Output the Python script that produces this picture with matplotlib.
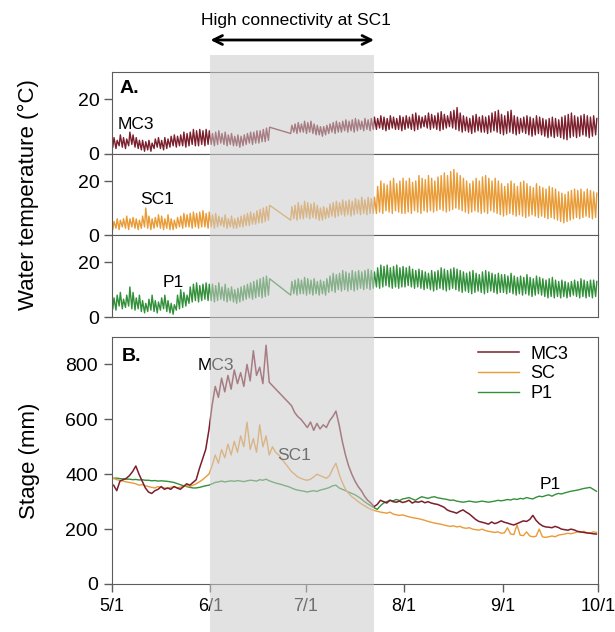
import matplotlib
matplotlib.use("Agg")
import matplotlib.dates as mdates
import matplotlib.pyplot as plt
import matplotlib.transforms as mtransforms
import pandas as pd
from matplotlib.patches import Rectangle
from matplotlib.ticker import FuncFormatter

plt.rcParams["font.family"] = ["Liberation Sans", "DejaVu Sans"]

N = None  # logger gap
days = pd.date_range("2015-05-01", "2015-09-30", freq="D")
shade_start = pd.Timestamp("2015-06-01")
shade_end = pd.Timestamp("2015-07-22 12:00")

# ---- water temperature, daily low / high (degC) ----
mc3_temp_low = [
    2.5, 2, 3, 2.5, 2, 3, 3.5, 2.5, 2, 1.5, 1, 1.5, 1, 2, 2.5, 2, 1.5, 2, 2.5, 3, 2.5, 3, 3, 2.5, 3, 3.5, 3, 3, 3.5, 3, 3.5,
    3.5, 3, 3.5, 4, 3.5, 3, 3.5, 3, 3, 2.5, 3, 3.5, 4, 3.5, 4, 4, 4.5, 4.5, 5, N, N, N, N, N, N, 7.5, 8, 7.5, 8, 8,
    7.5, 8, 7.5, 7, 7, 6.5, 7, 7.5, 8, 7.5, 8, 8, 8.5, 8, 8.5, 8, 8.5, 9, 8.5, 9, 8.5, 9, 9, 9.5, 9, 8.5, 9, 9.5, 9, 9, 8.5,
    9, 9.5, 9, 8.5, 9, 9.5, 10, 9.5, 9, 9.5, 9, 8.5, 9, 9.5, 10, 9.5, 9, 8.5, 8, 8.5, 8, 7.5, 8, 8.5, 8, 8, 7.5, 8, 8.5, 8, 7.5,
    7, 7.5, 8, 7.5, 7, 7.5, 8, 7.5, 7, 6.5, 7, 7.5, 7, 6.5, 6, 6.5, 6, 6.5, 6, 5.5, 5.2, 6, 6.5, 6, 6.5, 7, 6.5, 6, 6.5, 7,
]
mc3_temp_high = [
    6, 5, 7, 6, 5.5, 8, 7, 6, 5, 5, 4.5, 5, 4, 5.5, 6, 5, 6, 5.5, 6.5, 7, 6.5, 7, 8, 7.5, 8, 9, 8.5, 9, 8.5, 9, 8.5,
    7.5, 8, 8.5, 7.5, 8, 7, 7.5, 6.5, 7, 6.5, 7, 7.5, 8, 8, 8.5, 8.5, 9, 9.5, 9.8, N, N, N, N, N, N, 10.5, 11, 11.5, 11, 12,
    11.5, 12, 11, 10.5, 10, 10, 10.5, 11, 11.5, 12, 11.5, 12, 12.5, 12, 12.5, 13, 12.5, 12, 13, 12.5, 13, 13.5, 13, 14, 13.5, 13, 14, 13.5, 13, 14, 13.5,
    14, 13.5, 14.5, 15, 14, 13.5, 14, 15, 14.5, 14, 15, 15.5, 14.5, 14, 15.5, 16, 17, 15, 14, 13.5, 13, 14, 14.5, 13.5, 14, 13.5, 14, 15, 15.5, 16, 14.5,
    14, 15.5, 16, 14, 13.5, 13, 13.5, 14, 13.5, 13, 14, 13.5, 13, 12.5, 13, 13.5, 13, 12.5, 13.5, 14, 14.5, 15, 14, 13.5, 14, 14.5, 14, 13.5, 14, 13,
]
sc1_temp_low = [
    2, 2.5, 2, 3, 2.5, 2, 3, 2.5, 2, 2.5, 3, 2.5, 2, 2.5, 3, 2.5, 2, 2.5, 2, 2, 2.5, 3, 2.5, 3, 3, 2.5, 3, 2.5, 3, 3, 2.5,
    3, 2.5, 3, 3.5, 3, 2.5, 3, 2.5, 2.5, 3, 3, 3.5, 3.5, 4, 4, 4.5, 4.5, 5, 5.5, N, N, N, N, N, N, 5.5, 6, 5.5, 6, 6,
    6.5, 6, 6.5, 6, 5.5, 5.5, 6, 6.5, 7, 6.5, 7, 7.5, 7, 7.5, 7, 7.5, 8, 7.5, 8, 7.5, 8, 8, 8, 8.5, 8, 9, 8.5, 8, 9, 8.5, 8,
    8, 8.5, 8, 9, 8.5, 8, 9, 8.5, 9, 8.5, 9, 9.5, 9, 8.5, 9, 9.5, 10, 9.5, 9, 8.5, 8, 8.5, 9, 8.5, 8, 8.5, 8, 9, 8.5, 8, 7.5,
    7, 7.5, 8, 7.5, 7, 7.5, 7, 6.5, 7, 7.5, 7, 6.5, 7, 6.5, 6, 6.5, 6, 5.5, 5, 4.5, 5, 5.5, 6, 6.5, 6, 6.5, 7, 6.5, 6, 6.5,
]
sc1_temp_high = [
    5, 6, 5.5, 6, 7, 6, 6.5, 6, 5.5, 7, 10, 7, 6, 6.5, 7.5, 7, 6, 7.5, 6, 5.5, 6.5, 7, 8, 7.5, 8, 8.5, 8, 8.5, 9, 8, 8.5,
    7.5, 8, 7, 6.5, 7.5, 6, 7, 6, 6.5, 7, 7.5, 8, 8.5, 8, 9, 9.5, 10, 10.5, 11, N, N, N, N, N, N, 10.5, 11, 12, 11, 12.5,
    12, 11.5, 12, 11, 10, 10.5, 10, 11.5, 12, 12.5, 12, 13, 12.5, 13, 12.5, 13.5, 13, 14, 13, 14, 13.5, 14, 18, 20, 19, 18.5, 20, 21, 19, 20, 21,
    20, 21, 19.5, 20, 22, 21, 20.5, 22, 21, 20, 21.5, 22, 23, 22, 23.5, 24.3, 23, 22, 21, 20, 19, 20, 21, 20, 21.5, 22, 21, 20, 21, 20, 19,
    18, 19, 20, 19, 18, 19.5, 20, 19, 18, 17.5, 19, 18, 17.5, 17, 18, 17.5, 17, 16, 15.5, 15, 16, 16.5, 17, 16.5, 17, 16, 17, 16.5, 16, 15.5,
]
p1_temp_low = [
    3, 2.5, 4, 3, 3.5, 4, 3, 2.5, 3, 2, 1.5, 2, 2.5, 2, 1.5, 2.5, 3, 2, 1.5, 1, 2.5, 3, 3.5, 4, 5, 5.5, 6, 5.5, 6, 6.5, 6,
    6, 5.5, 6, 6.5, 6, 5.5, 6, 5.5, 5, 5.5, 6, 6.5, 7, 6.5, 7, 7.5, 7, 7.5, 8, N, N, N, N, N, N, 8, 8.5, 8, 8.5, 8.5,
    8, 8.5, 8, 8.5, 8, 8.5, 8, 9, 9.5, 9, 10, 9.5, 10, 9.5, 10, 9.5, 10, 10.5, 10, 10.5, 10, 10.5, 11, 10.5, 11, 11.5, 11, 10.5, 11, 10.5, 11,
    11, 11.5, 11, 10.5, 11, 10.5, 10, 10.5, 10, 9.5, 10, 10.5, 10, 9.5, 10, 10.5, 10, 9.5, 9, 9.5, 9, 8.5, 9, 9.5, 9, 8.5, 9, 9.5, 9, 8.5, 9,
    9, 8.5, 9, 8.5, 8, 8.5, 8, 8.5, 8, 7.5, 8, 8.5, 8, 7.5, 7, 7.5, 7, 7.5, 7, 7.5, 7, 7.5, 8, 7.5, 7, 7.5, 7, 7.5, 7, 7.5,
]
p1_temp_high = [
    7, 8, 9, 6.5, 8, 11, 9, 7, 8, 6, 5, 6.5, 8, 6, 5.5, 7, 8, 6, 5, 4.5, 8, 10, 9, 8, 11, 12, 12.5, 11.5, 12, 12.5, 12,
    12, 11.5, 12.5, 11, 12, 10.5, 11, 10, 10.5, 11, 11.5, 12, 12.5, 13, 13.5, 14, 14.5, 15, 14, N, N, N, N, N, N, 13, 13.5, 14, 13.5, 14.5,
    14, 13.5, 14, 13, 13.5, 13, 14, 15, 16, 15.5, 16, 17, 16.5, 16, 17, 16.5, 17, 16.5, 17, 17.5, 17, 16.5, 18, 19, 18.5, 19, 18, 18.5, 19, 18, 18.5,
    18, 18.5, 17.5, 17, 17.5, 17, 16.5, 16, 17, 16.5, 17, 18, 17.5, 17, 17.5, 18, 17.5, 17, 16.5, 16, 16.5, 17, 16, 15.5, 16.5, 17, 16.5, 16, 15.5, 16, 15.5,
    15.5, 15, 16, 15, 14.5, 15, 14.5, 15.5, 14.5, 14, 15, 14.5, 14, 13.5, 14, 14.5, 13.5, 13, 13.5, 13, 12.5, 13, 13.5, 13, 14, 13.5, 13, 13.5, 13.5, 13,
]

# ---- stage, daily (mm) ----
mc3_stage = [
    360, 340, 375, 380, 385, 395, 410, 430, 400, 375, 350, 335, 330, 340, 345, 355, 345, 350, 345, 355, 350, 345, 355, 365, 360, 370, 380, 420, 455, 490, 560,
    650, 720, 680, 750, 700, 760, 710, 780, 730, 770, 720, 800, 740, 850, 760, 790, 730, 870, 735, N, N, N, N, N, N, 650, 625, 610, 600, 585,
    570, 590, 560, 585, 565, 580, 570, 595, 610, 630, 580, 520, 470, 430, 400, 375, 355, 340, 320, 305, 295, 282, 290, 305, 300, 295, 305, 300, 298, 302, 297,
    300, 305, 295, 300, 298, 302, 296, 300, 295, 292, 290, 285, 280, 270, 265, 262, 258, 265, 270, 262, 255, 245, 235, 228, 225, 222, 218, 226, 220, 224, 230,
    225, 222, 218, 215, 220, 225, 230, 228, 235, 250, 232, 220, 212, 208, 207, 205, 210, 206, 200, 198, 196, 200, 197, 192, 190, 188, 186, 185, 183, 182,
]
sc_stage = [
    385, 380, 378, 375, 372, 370, 368, 365, 360, 362, 358, 355, 352, 350, 355, 352, 350, 348, 352, 355, 350, 353, 355, 358, 355, 360, 365, 372, 380, 390, 400,
    430, 470, 440, 490, 460, 510, 470, 520, 480, 540, 500, 590, 490, 530, 480, 580, 500, 540, 470, 500, 480, 470, 455, 440, 425, 410, 400, 390, 385, 380,
    378, 382, 390, 400, 395, 390, 385, 395, 420, 440, 400, 370, 345, 330, 318, 310, 300, 292, 285, 278, 272, 268, 265, 262, 260, 258, 262, 255, 252, 250, 252,
    248, 245, 242, 240, 238, 235, 232, 228, 225, 222, 220, 218, 215, 212, 210, 212, 208, 210, 205, 203, 205, 200, 198, 196, 200, 195, 192, 190, 188, 190, 185,
    186, 205, 182, 180, 215, 178, 176, 190, 175, 172, 174, 200, 172, 170, 172, 175, 172, 178, 180, 182, 185, 183, 186, 190, 188, 192, 187, 185, 190, 188,
]
p1_stage = [
    385, 386, 384, 383, 382, 382, 380, 381, 379, 380, 378, 378, 376, 377, 375, 376, 375, 374, 372, 370, 366, 362, 358, 355, 352, 350, 350, 352, 355, 358, 360,
    365, 370, 372, 375, 372, 374, 376, 374, 377, 375, 373, 376, 378, 377, 375, 380, 378, 382, 376, 372, 368, 365, 362, 358, 355, 350, 345, 342, 340, 338,
    335, 338, 340, 337, 342, 345, 348, 352, 358, 360, 350, 345, 340, 335, 330, 325, 318, 310, 300, 292, 285, 278, 272, 285, 295, 300, 305, 303, 308, 304, 310,
    312, 315, 310, 305, 312, 318, 315, 312, 316, 318, 314, 312, 310, 308, 305, 306, 302, 300, 298, 300, 302, 300, 298, 300, 302, 300, 298, 300, 302, 305, 303,
    305, 308, 306, 310, 308, 312, 310, 315, 312, 310, 316, 320, 318, 322, 325, 320, 326, 330, 328, 332, 335, 338, 340, 342, 345, 348, 350, 352, 345, 338,
]

C_MC3 = "#7b1f2d"
C_SC = "#e99b36"
C_P1 = "#33903a"
SPINE = "#5c5c5c"


def zigzag(low, high):
    xs, ys = [], []
    for d, lo, hi in zip(days, low, high):
        if lo is not None:
            xs.append(d + pd.Timedelta(hours=6))
            ys.append(lo)
        if hi is not None:
            xs.append(d + pd.Timedelta(hours=15))
            ys.append(hi)
    return xs, ys


def daily(vals):
    s = pd.Series(vals, index=days + pd.Timedelta(hours=12), dtype=float).dropna()
    return s.index, s.values


W, H = 615, 632
fig = plt.figure(figsize=(W / 100, H / 100), dpi=100)


def box(l, t, r, b):
    return [l / W, 1 - b / H, (r - l) / W, (b - t) / H]


start, end = pd.Timestamp("2015-05-01"), pd.Timestamp("2015-10-01")

temp_panels = [
    (box(112, 72, 598, 154), "MC3", mc3_temp_low, mc3_temp_high, C_MC3, 0.012, 0.36),
    (box(112, 154, 598, 235), "SC1", sc1_temp_low, sc1_temp_high, C_SC, 0.058, 0.44),
    (box(112, 235, 598, 317), "P1", p1_temp_low, p1_temp_high, C_P1, 0.105, 0.42),
]
temp_axes = []
for rect, name, lo, hi, color, lx, ly in temp_panels:
    ax = fig.add_axes(rect)
    xs, ys = zigzag(lo, hi)
    ax.plot(xs, ys, color=color, lw=1.0)
    ax.set_xlim(start, end)
    ax.set_ylim(0, 30)
    ax.set_yticks([0, 20])
    ax.set_xticks([])
    ax.tick_params(axis="y", direction="out", length=6, width=1, color=SPINE, labelsize=14, pad=3)
    for sp in ax.spines.values():
        sp.set_color(SPINE)
    ax.text(lx, ly, name, transform=ax.transAxes, fontsize=12.5, va="center")
    temp_axes.append(ax)
temp_axes[0].text(0.016, 0.9, "A.", transform=temp_axes[0].transAxes, fontsize=14, fontweight="bold", va="top")

axB = fig.add_axes(box(112, 337, 598, 584))
x, y = daily(p1_stage)
l_p1, = axB.plot(x, y, color=C_P1, lw=1.0, label="P1")
x, y = daily(sc_stage)
l_sc, = axB.plot(x, y, color=C_SC, lw=1.0, label="SC")
x, y = daily(mc3_stage)
l_mc3, = axB.plot(x, y, color=C_MC3, lw=1.1, label="MC3")
axB.set_xlim(start, end)
axB.set_ylim(0, 900)
axB.set_yticks(range(0, 801, 200))
axB.xaxis.set_major_locator(mdates.MonthLocator())
axB.xaxis.set_major_formatter(
    FuncFormatter(lambda v, p: f"{mdates.num2date(v).month}/{mdates.num2date(v).day}")
)
axB.tick_params(direction="out", length=6, width=1, color=SPINE, labelsize=14, pad=4)
axB.tick_params(axis="x", labelsize=13)
for sp in axB.spines.values():
    sp.set_color(SPINE)
axB.text(0.02, 0.955, "B.", transform=axB.transAxes, fontsize=14, fontweight="bold", va="top")
axB.text(pd.Timestamp("2015-05-28"), 796, "MC3", fontsize=12.5, va="center")
axB.text(pd.Timestamp("2015-06-22"), 469, "SC1", fontsize=12.5, va="center")
axB.text(pd.Timestamp("2015-09-12 12:00"), 364, "P1", fontsize=12.5, va="center")
axB.legend(
    handles=[l_mc3, l_sc, l_p1], loc="upper left", bbox_to_anchor=(0.753, 0.965),
    borderaxespad=0, borderpad=0, handlelength=2.3, handletextpad=0.6,
    labelspacing=0.15, fontsize=13, frameon=False,
)

fig.text(28 / W, 1 - 194.5 / H, "Water temperature (\u00b0C)", rotation=90, fontsize=16, ha="center", va="center")
fig.text(30 / W, 1 - 460.5 / H, "Stage (mm)", rotation=90, fontsize=16, ha="center", va="center")

# shaded high-connectivity window, laid over every panel
blend = mtransforms.blended_transform_factory(axB.transData, fig.transFigure)
x0, x1 = mdates.date2num(shade_start), mdates.date2num(shade_end)
fig.add_artist(Rectangle((x0, 0), x1 - x0, 1 - 55 / H, transform=blend,
                         facecolor="#cbcbcb", edgecolor="none", alpha=0.55, zorder=10))
axB.annotate("", xy=(x1, 1 - 40 / H), xytext=(x0, 1 - 40 / H), xycoords=blend, textcoords=blend,
             arrowprops=dict(arrowstyle="<->", lw=2, color="black", shrinkA=0, shrinkB=0, mutation_scale=16),
             annotation_clip=False)
fig.text(296 / W, 1 - 20 / H, "High connectivity at SC1", fontsize=12.5, ha="center", va="center")

fig.savefig("out.png", dpi=100)
